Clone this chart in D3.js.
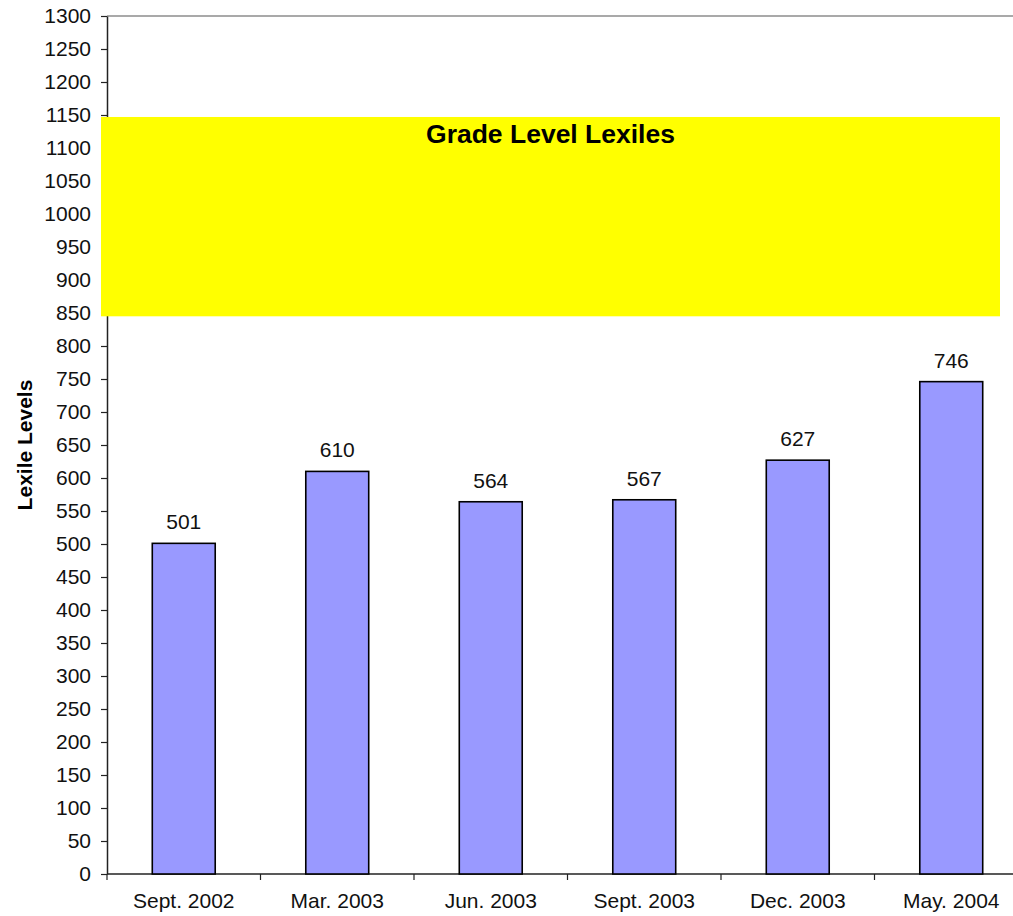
<!DOCTYPE html>
<html>
<head>
<meta charset="utf-8">
<script src="https://cdn.jsdelivr.net/npm/d3@7"></script>
<style>
  html, body { margin: 0; padding: 0; background: #fff; }
  svg { display: block; font-family: "Liberation Sans", Arial, sans-serif; }
</style>
</head>
<body>
<svg id="chart" width="1013" height="916"></svg>
<script>
const categories = ["Sept. 2002", "Mar. 2003", "Jun. 2003", "Sept. 2003", "Dec. 2003", "May. 2004"];
const lexileValues = [501, 610, 564, 567, 627, 746];
const gradeBand = [845, 1147];
const gradeBandLabel = "Grade Level Lexiles";
const yTicks = d3.range(0, 1301, 50);
const yTitle = "Lexile Levels";

(function () {
const svg = d3.select("#chart");
const pLeft = 107, pRight = 1028, pTop = 16, pBottom = 874;
const fs = 21;

const x = d3.scaleBand().domain(categories).range([pLeft, pRight]).paddingInner(0.59).paddingOuter(0.295);
const xStep = d3.scaleBand().domain(categories).range([pLeft, pRight]).padding(0);
const y = d3.scaleLinear().domain([0, 1300]).range([pBottom, pTop]);

// top border line
svg.append("line").attr("x1", pLeft).attr("x2", 1013).attr("y1", y(1300)).attr("y2", y(1300))
  .attr("stroke", "#8c8c8c").attr("stroke-width", 1.3);

// y axis
const yAxis = svg.append("g").attr("transform", `translate(${pLeft},0)`)
  .call(d3.axisLeft(y).tickValues(yTicks).tickFormat(d3.format("d")).tickSize(6).tickPadding(10).tickSizeOuter(0));
yAxis.select(".domain").attr("stroke", "#222").attr("stroke-width", 1.5);
yAxis.selectAll(".tick line").attr("stroke", "#222").attr("stroke-width", 1.2);
yAxis.selectAll("text").attr("font-size", fs).attr("fill", "#111")
  .attr("font-family", "Liberation Sans, Arial, sans-serif");

// x axis with ticks at category boundaries
const xAxisG = svg.append("g").attr("transform", `translate(0,${pBottom})`);
xAxisG.append("line").attr("x1", pLeft).attr("x2", 1013).attr("y1", 0).attr("y2", 0)
  .attr("stroke", "#222").attr("stroke-width", 1.5);
const boundaries = categories.map(c => xStep(c));
xAxisG.selectAll(".bt").data(boundaries).join("line").attr("class", "bt")
  .attr("x1", d => d).attr("x2", d => d).attr("y1", 0).attr("y2", 6)
  .attr("stroke", "#222").attr("stroke-width", 1.2);
xAxisG.selectAll(".xl").data(categories).join("text").attr("class", "xl")
  .attr("x", d => xStep(d) + xStep.bandwidth() / 2).attr("y", 34)
  .attr("text-anchor", "middle").attr("font-size", fs).attr("fill", "#111").text(d => d);

// bars
svg.selectAll(".bar").data(lexileValues).join("rect").attr("class", "bar")
  .attr("x", (d, i) => x(categories[i]))
  .attr("width", x.bandwidth())
  .attr("y", d => y(d))
  .attr("height", d => y(0) - y(d))
  .attr("fill", "#9999FF").attr("stroke", "#000").attr("stroke-width", 1.6);

// value labels
svg.selectAll(".vl").data(lexileValues).join("text").attr("class", "vl")
  .attr("x", (d, i) => x(categories[i]) + x.bandwidth() / 2)
  .attr("y", d => y(d) - 14)
  .attr("text-anchor", "middle").attr("font-size", fs).attr("fill", "#111").text(d => d);

// grade level band
const bandLeft = pLeft - 6, bandRight = 1000;
svg.append("rect").attr("x", bandLeft).attr("width", bandRight - bandLeft)
  .attr("y", y(gradeBand[1])).attr("height", y(gradeBand[0]) - y(gradeBand[1]))
  .attr("fill", "#FFFF00");
svg.append("text").attr("x", (bandLeft + bandRight) / 2).attr("y", y(gradeBand[1]) + 26)
  .attr("text-anchor", "middle").attr("font-size", 26.5).attr("font-weight", "bold")
  .attr("fill", "#000").text(gradeBandLabel);

// y title
svg.append("text").attr("transform", `translate(32,${(pTop + pBottom) / 2}) rotate(-90)`)
  .attr("text-anchor", "middle").attr("font-size", fs).attr("font-weight", "bold")
  .attr("fill", "#000").text(yTitle);
})();
</script>
</body>
</html>
